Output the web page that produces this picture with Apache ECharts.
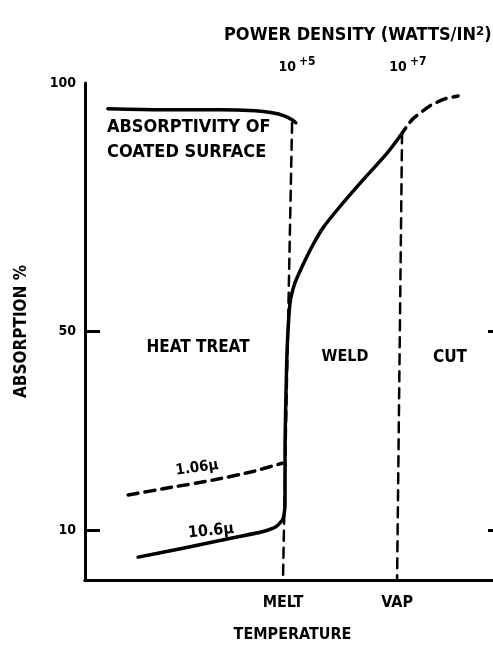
<!DOCTYPE html>
<html>
<head>
<meta charset="utf-8">
<script src="https://cdn.jsdelivr.net/npm/echarts@6/dist/echarts.min.js"></script>
<style>
  html, body { margin: 0; padding: 0; background: #fff; }
  #chart { width: 493px; height: 646px; }
</style>
</head>
<body>
<div id="chart"></div>
<script>
// temperature axis is arbitrary units 0..100, absorption in %
const coatedX = [5.5, 18.1, 32.5, 41.0, 45.1, 48.0, 49.9, 50.8];
const coatedY = [94.8, 94.6, 94.6, 94.4, 94.0, 93.4, 92.6, 92.0];

const co2X = [12.8, 23.6, 35.7, 42.7, 46.0, 47.7, 48.2, 48.2, 48.4, 48.7, 49.4, 50.6, 52.5, 54.9, 57.3, 61.4, 67.0, 72.8, 75.9];
const co2Y = [4.6, 6.4, 8.5, 9.7, 10.7, 12.3, 15.1, 26.2, 36.2, 46.3, 55.7, 59.8, 63.4, 67.4, 70.8, 75.1, 80.5, 85.9, 89.3];

const tailX = [75.9, 78.8, 83.1, 86.7, 89.9];
const tailY = [89.3, 92.6, 95.4, 96.8, 97.4];

const yagX = [10.4, 19.8, 30.8, 39.8, 47.5];
const yagY = [17.1, 18.5, 20.1, 21.7, 23.5];

const meltX = [49.9, 47.7];
const meltY = [92.0, 0];
const vapX = [76.4, 75.2];
const vapY = [89.9, 0];

const tempTicks = [47.7, 75.2];
const tempLabels = ['MELT', 'VAP'];
const powerExponents = [5, 7];
const absTicks = [10, 50, 100];

const FONT = '"DejaVu Sans Condensed", "DejaVu Sans", sans-serif';

function pts(xs, ys) {
  return xs.map((x, i) => [x, ys[i]]);
}

function lineSeries(data, width, dashed) {
  return {
    type: 'line',
    data: data,
    symbol: 'none',
    smooth: 0.2,
    silent: true,
    lineStyle: {
      color: '#000',
      width: width,
      type: dashed ? [10, 7] : 'solid',
      cap: 'round',
      join: 'round',
    },
  };
}

function label(text, x, y, size, align, rot) {
  return {
    type: 'text',
    x: x,
    y: y,
    rotation: rot || 0,
    style: {
      text: text,
      fill: '#000',
      font: 'bold ' + size + 'px ' + FONT,
      align: align || 'center',
      verticalAlign: 'middle',
    },
  };
}

const chart = echarts.init(document.getElementById('chart'), null, { renderer: 'canvas' });

chart.setOption({
  animation: false,
  backgroundColor: '#fff',
  title: {
    text: 'POWER DENSITY (WATTS/IN{s|2})',
    left: 219,
    top: 20,
    textStyle: {
      fontFamily: FONT,
      fontWeight: 'bold',
      fontSize: 18,
      color: '#000',
      rich: {
        s: { fontFamily: FONT, fontWeight: 'bold', fontSize: 13, verticalAlign: 'top', padding: [0, 0, 8, 0] },
      },
    },
  },
  grid: { left: 85, right: -7, top: 83, bottom: 66, outerBoundsMode: 'none' },
  xAxis: [
    {
      type: 'value',
      min: 0,
      max: 100,
      position: 'bottom',
      splitLine: { show: false },
      axisLine: { lineStyle: { color: '#000', width: 3 } },
      axisTick: { show: false },
      axisLabel: {
        customValues: tempTicks,
        margin: 15,
        color: '#000',
        fontFamily: FONT,
        fontWeight: 'bold',
        fontSize: 16,
        formatter: (v) => tempLabels[tempTicks.indexOf(v)],
      },
      name: 'TEMPERATURE',
      nameLocation: 'middle',
      nameGap: 47,
      nameTextStyle: { color: '#000', fontFamily: FONT, fontWeight: 'bold', fontSize: 16 },
    },
    {
      // log10 of power density, aligned to the temperature scale
      type: 'value',
      min: 1.18,
      max: 8.66,
      position: 'top',
      splitLine: { show: false },
      axisLine: { lineStyle: { color: '#000', width: 3 } },
      axisTick: { show: false },
      axisLabel: {
        customValues: powerExponents,
        margin: 5,
        color: '#000',
        formatter: (v) => '{b|10}{s|+' + v + '}',
        rich: {
          b: { fontFamily: FONT, fontWeight: 'bold', fontSize: 14, color: '#000' },
          s: { fontFamily: FONT, fontWeight: 'bold', fontSize: 12, color: '#000', verticalAlign: 'top', padding: [0, 0, 10, 3] },
        },
      },
    },
  ],
  yAxis: [
    {
      type: 'value',
      min: 0,
      max: 100,
      position: 'left',
      splitLine: { show: false },
      axisLine: { show: true, lineStyle: { color: '#000', width: 3 } },
      axisTick: { show: true, inside: true, length: 15, customValues: [10, 50], lineStyle: { color: '#000', width: 3 } },
      axisLabel: {
        customValues: absTicks,
        margin: 9,
        color: '#000',
        fontFamily: FONT,
        fontWeight: 'bold',
        fontSize: 14,
      },
      name: 'ABSORPTION %',
      nameLocation: 'middle',
      nameRotate: 90,
      nameGap: 55,
      nameTextStyle: { color: '#000', fontFamily: FONT, fontWeight: 'bold', fontSize: 17 },
    },
    {
      type: 'value',
      min: 0,
      max: 100,
      position: 'right',
      splitLine: { show: false },
      axisLine: { show: false },
      axisTick: { show: true, inside: true, length: 12, customValues: [10, 50], lineStyle: { color: '#000', width: 3 } },
      axisLabel: { show: false },
    },
  ],
  series: [
    lineSeries(pts(coatedX, coatedY), 3.5, false),
    lineSeries(pts(co2X, co2Y), 3.5, false),
    lineSeries(pts(tailX, tailY), 3.5, true),
    lineSeries(pts(yagX, yagY), 3.5, true),
    Object.assign(lineSeries(pts(meltX, meltY), 2.5, true), { smooth: false }),
    Object.assign(lineSeries(pts(vapX, vapY), 2.5, true), { smooth: false }),
  ],
  graphic: [
    label('ABSORPTIVITY OF', 107, 127, 18, 'left'),
    label('COATED SURFACE', 107, 152, 18, 'left'),
    label('HEAT TREAT', 198, 348, 17),
    label('WELD', 345, 357, 16),
    label('CUT', 450, 358, 17),
    label('1.06\u00b5', 197, 468, 15, 'center', 0.14),
    label('10.6\u00b5', 211, 531, 16, 'center', 0.1),
  ],
});
</script>
</body>
</html>
